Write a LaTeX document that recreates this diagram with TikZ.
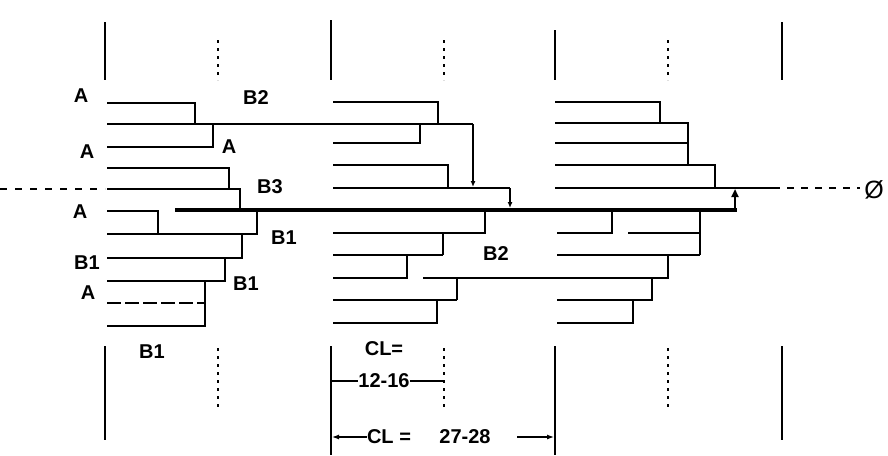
\documentclass[tikz,border=0pt]{standalone}
\usepackage{fontspec}
\setsansfont{Liberation Sans}
\usetikzlibrary{arrows.meta}
\begin{document}
\begin{tikzpicture}[x=1pt,y=-1pt]

\tikzset{chain/.style={line width=2.2pt}}
\tikzset{core/.style={line width=4pt}}
\tikzset{wall/.style={line width=2.5pt}}
\tikzset{dots/.style={line width=2.5pt,dash pattern=on 3pt off 5pt}}
\tikzset{tag/.style={font=\sffamily\bfseries\fontsize{20}{20}\selectfont,inner sep=0pt}}
\tikzset{tip/.style={chain,-{Latex[length=6pt,width=5pt]}}}
\tikzset{dim/.style={line width=1.2pt}}

\useasboundingbox (0,0) rectangle (888,455);

%TIERS
\foreach \x/\t in {105/22,331/20,555/30,782/22} {
  \draw[wall] (\x,\t) -- (\x,80);
}
\foreach \x/\b in {105/440,331/455,555/455,782/440} {
  \draw[wall] (\x,346) -- (\x,\b);
}
\foreach \x in {218,444,668} {
  \draw[dots] (\x,40) -- (\x,80);
  \draw[dots] (\x,348) -- (\x,410);
}

%COLUMN 1
\draw[chain] (107,103) -| (195,124);
\draw[chain] (107,124) -- (473,124);
\draw[tip] (473,124) -- (473,187);
\draw[chain] (107,147) -| (213,124);
\draw[chain] (107,168) -| (229,189);
\draw[chain] (107,189) -| (240,209);
\draw[chain] (107,211) -| (158,234);
\draw[chain] (107,234) -| (257,210);
\draw[chain] (107,258) -| (242,234);
\draw[chain] (107,281) -| (225,258);
\draw[chain,dash pattern=on 14pt off 4pt] (107,303) -- (205,303);
\draw[chain] (107,326) -| (205,281);

%CORE
\draw[core] (175,210) -- (737,210);
\draw[chain,-{Triangle[length=8pt,width=7pt]}] (735,210) -- (735,189);
\draw[chain,dash pattern=on 7pt off 8pt] (0,189) -- (105,189);
\draw[chain] (555,188) -- (780,188);
\draw[chain,dash pattern=on 7pt off 7pt] (787,188) -- (860,188);

%COLUMN 2
\draw[chain] (333,102) -| (438,124);
\draw[chain] (333,143) -| (420,124);
\draw[chain] (333,165) -| (448,188);
\draw[chain] (333,188) -- (510,188);
\draw[tip] (510,188) -- (510,208);
\draw[chain] (333,233) -| (485,210);
\draw[chain] (443,233) -- (443,255);
\draw[chain] (333,255) -- (443,255);
\draw[chain] (333,278) -| (407,255);
\draw[chain] (423,278) -| (668,255);
\draw[chain] (457,278) -- (457,300);
\draw[chain] (333,300) -- (457,300);
\draw[chain] (333,323) -| (437,300);

%COLUMN 3
\draw[chain] (555,102) -| (660,123);
\draw[chain] (555,123) -| (688,165);
\draw[chain] (555,143) -- (688,143);
\draw[chain] (555,165) -| (715,188);
\draw[chain] (557,233) -| (612,210);
\draw[chain] (628,233) -- (700,233);
\draw[chain] (700,210) -- (700,255);
\draw[chain] (557,255) -- (700,255);
\draw[chain] (557,300) -| (652,278);
\draw[chain] (557,323) -| (633,300);

%LABELS
\node[tag] (a1) at (81,96) {A};
\node[tag] (b2up) at (256,98) {B2};
\node[tag] (a2) at (87,152) {A};
\node[tag] (a3) at (229,147) {A};
\node[tag] (b3) at (270,187) {B3};
\node[tag] (a4) at (80,212) {A};
\node[tag] (b1a) at (284,238) {B1};
\node[tag] (b1b) at (87,263) {B1};
\node[tag] (a5) at (88,293) {A};
\node[tag] (b1c) at (246,284) {B1};
\node[tag] (b1d) at (152,352) {B1};
\node[tag] (b2low) at (496,254) {B2};
\node[tag,font=\sffamily\fontsize{25}{25}\selectfont] (phi) at (874,190) {\O};

%LENGTHS
\node[tag] (cla) at (384,349) {CL=};
\node[tag] (clb) at (384,381) {12-16};
\node[tag] (clc) at (389,437) {CL =};
\node[tag] (cld) at (465,437) {27-28};
\coordinate (wl) at (332,381);
\coordinate (wr) at (443,381);
\coordinate (al) at (332,437);
\coordinate (ar0) at (517,437);
\coordinate (ar) at (554,437);
\draw[dim] (wl) -- (clb.west);
\draw[dim] (clb.east) -- (wr);
\draw[dim,-{Latex[length=7pt,width=5pt]}] (clc.west) -- (al);
\draw[dim,-{Latex[length=7pt,width=5pt]}] (ar0) -- (ar);

\end{tikzpicture}
\end{document}
